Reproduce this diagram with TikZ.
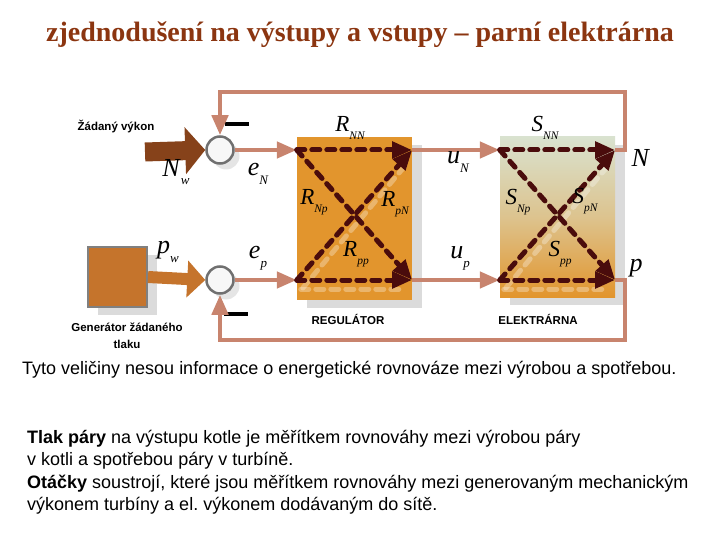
\documentclass[tikz,border=0pt]{standalone}
\usepackage{fontspec}
\setmainfont{Liberation Serif}
\setsansfont{Liberation Sans}
\newfontfamily\txtfont{Liberation Sans}
\usetikzlibrary{arrows.meta,positioning,shadows}
\definecolor{ttlbrown}{HTML}{8B3510}
\definecolor{fbsalmon}{HTML}{C8846E}
\definecolor{sigdark}{HTML}{4A0C0C}
\definecolor{regorange}{HTML}{E2952D}
\definecolor{elegreen}{HTML}{D9E2CF}
\definecolor{genbrown}{HTML}{C5742C}
\definecolor{nwbrown}{HTML}{86421A}
\definecolor{sumgray}{HTML}{707070}
\newcommand{\vlab}[2]{\textit{#1}\raisebox{-.34em}{\scalebox{0.5}{\itshape #2}}}

\begin{document}
\begin{tikzpicture}[x=1pt,y=-1pt,
  blk/.style={draw=none,minimum width=115pt,inner sep=0pt,
    drop shadow={shadow xshift=10pt,shadow yshift=-8pt,fill=black!14,opacity=1}},
  sum/.style={circle,draw=sumgray,line width=2.5pt,fill=gray!6,minimum size=27pt,inner sep=0pt,
    drop shadow={shadow xshift=6pt,shadow yshift=-6pt,fill=black!10,opacity=1}},
  fb/.style={fbsalmon,line width=4.5pt,-{Triangle[length=20pt,width=16pt]}},
  sig/.style={sigdark,line width=5pt,line cap=round,dash pattern=on 8pt off 7pt,
    -{Triangle[length=20pt,width=16pt]}},
  sigref/.style={white,opacity=.3,line width=5pt,line cap=round,dash pattern=on 8pt off 7pt},
  bigarr/.style={line width=19pt,-{Triangle[length=20pt,width=46pt]}},
  minusbar/.style={fill=black,minimum width=24pt,minimum height=3.5pt,inner sep=0pt},
  vl/.style={font=\fontsize{26}{26}\selectfont,inner sep=0pt},
  rl/.style={font=\fontsize{23}{23}\selectfont,inner sep=0pt},
  tag/.style={font=\txtfont\bfseries\fontsize{11.5}{17}\selectfont,align=center,inner sep=0pt},
  txt/.style={font=\txtfont\fontsize{18}{22.3}\selectfont,inner sep=0pt,align=left}]
  \useasboundingbox (0,0) rectangle (720,540);
  % title
  \node[font=\bfseries\fontsize{28}{28}\selectfont,text=ttlbrown] (title) at (360,35)
    {zjednodušení na výstupy a vstupy – parní elektrárna};
  % blocks
  \node[blk,fill=regorange,minimum height=163pt] (reg) at (354.5,218.5) {};
  \node[blk,top color=elegreen,bottom color=regorange,middle color=regorange!40!elegreen,
    minimum height=160pt] (ele) at (557.5,217) {};
  \node[blk,fill=genbrown,draw=gray,line width=2pt,minimum width=59pt,minimum height=60pt]
    (gen) at (117.5,277) {};
  \node[sum] (sN) at (220,150) {};
  \node[sum] (sP) at (220,280) {};
  \node[minusbar] (mN) at (237,124) {};
  \node[minusbar] (mP) at (236,314) {};
  % row points
  \coordinate (rNi) at (reg.west |- sN);
  \coordinate (rNo) at (reg.east |- sN);
  \coordinate (rPi) at (reg.west |- sP);
  \coordinate (rPo) at (reg.east |- sP);
  \coordinate (eNi) at (ele.west |- sN);
  \coordinate (eNo) at (ele.east |- sN);
  \coordinate (ePi) at (ele.west |- sP);
  \coordinate (ePo) at (ele.east |- sP);
  \coordinate (fbN) at (625,92);
  \coordinate (fbP) at (625,340);
  \coordinate (Nw) at (145,152);
  % inputs
  \draw[bigarr,draw=nwbrown] (Nw) -- (sN.west);
  \draw[bigarr,line width=12pt,-{Triangle[length=18pt,width=36pt]},draw=genbrown] (gen.east) -- (sP.west);
  % signals
  \draw[fb] (sN.east) -- (rNi);
  \draw[fb] (sP.east) -- (rPi);
  \draw[fb] (rNo) -- (eNi);
  \draw[fb] (rPo) -- (ePi);
  \draw[fb] (eNo) -| (fbN) -| (sN.north);
  \draw[fb] (ePo) -| (fbP) -| (sP.south);
  % cross couplings
  \foreach \b in {r,e}{
    \draw[sigref] ([shift={(4,9)}]\b Pi) -- ([shift={(-8,9)}]\b Po);
    \draw[sigref] ([shift={(6,8)}]\b Pi) -- ([shift={(-4,12)}]\b No);
    \draw[sig] (\b Ni) -- (\b No);
    \draw[sig] (\b Ni) -- (\b Po);
    \draw[sig] (\b Pi) -- (\b No);
    \draw[sig] (\b Pi) -- (\b Po);
  }
  % labels
  \node[vl] (lNw) at (176,172) {\vlab{N}{w}};
  \node[vl] (leN) at (258,174) {\vlab{e}{N}};
  \node[vl] (lpw) at (168,252) {\vlab{p}{w}};
  \node[vl] (lep) at (258,258) {\vlab{e}{p}};
  \node[vl] (luN) at (458,162) {\vlab{u}{N}};
  \node[vl] (lup) at (460,258) {\vlab{u}{p}};
  \node[vl] (lN) at (641,158) {\textit{N}};
  \node[vl] (lp) at (636,268) {\textit{p}};
  \node[rl] (lRNN) at (350,128) {\vlab{R}{NN}};
  \node[rl] (lRNp) at (314,202) {\vlab{R}{Np}};
  \node[rl] (lRpN) at (395,204) {\vlab{R}{pN}};
  \node[rl] (lRpp) at (356,254) {\vlab{R}{pp}};
  \node[rl] (lSNN) at (545,128) {\vlab{S}{NN}};
  \node[rl] (lSNp) at (518,202) {\vlab{S}{Np}};
  \node[rl] (lSpN) at (585,201) {\vlab{S}{pN}};
  \node[rl] (lSpp) at (560,254) {\vlab{S}{pp}};
  \node[tag] (lzad) at (116,127) {Žádaný výkon};
  \node[tag] (lgen) at (127,336) {Generátor žádaného\\tlaku};
  \node[tag] (lreg) at (348,319) {REGULÁTOR};
  \node[tag] (lele) at (538,319) {ELEKTRÁRNA};
  % text
  \node[txt,anchor=west] (note) at (22,370)
    {Tyto veličiny nesou informace o energetické rovnováze mezi výrobou a spotřebou.};
  \node[txt,anchor=north west] (expl) at (27,430)
    {\textbf{Tlak páry} na výstupu kotle je měřítkem rovnováhy mezi výrobou páry\\
     v kotli a spotřebou páry v turbíně.\\
     \textbf{Otáčky} soustrojí, které jsou měřítkem rovnováhy mezi generovaným mechanickým\\
     výkonem turbíny a el.\ výkonem dodávaným do sítě.};
\end{tikzpicture}
\end{document}
